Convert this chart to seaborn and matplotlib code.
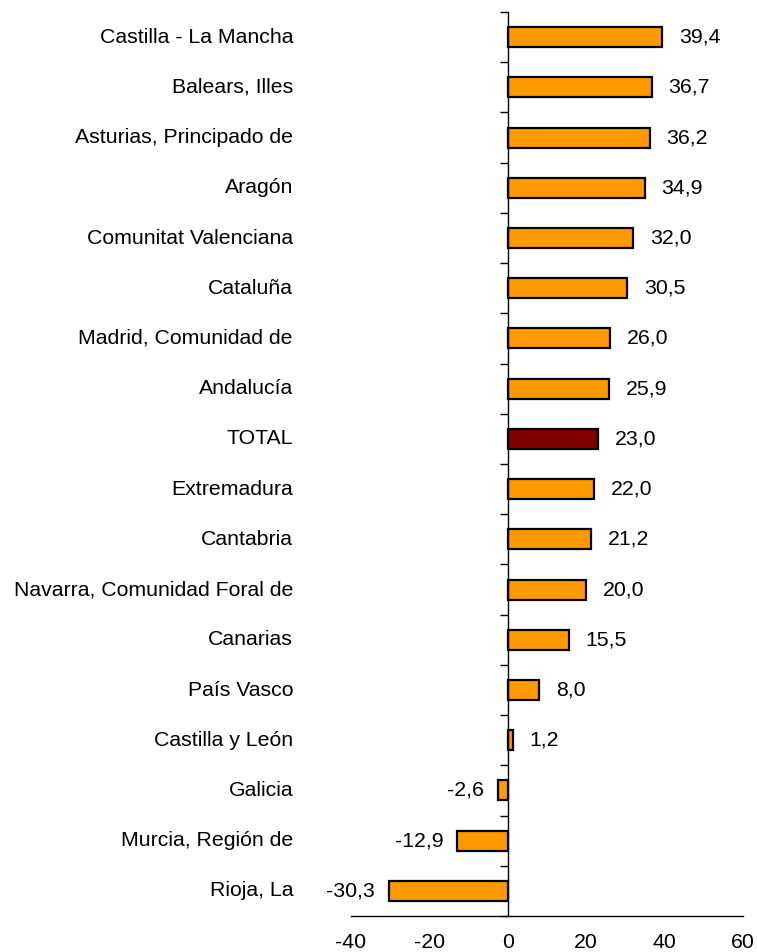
import numpy as np
import pandas as pd
import seaborn as sns
import matplotlib.pyplot as plt
from matplotlib.ticker import FixedLocator

# data
regions = ['Castilla - La Mancha', 'Balears, Illes', 'Asturias, Principado de',
           'Aragón', 'Comunitat Valenciana', 'Cataluña',
           'Madrid, Comunidad de', 'Andalucía', 'TOTAL', 'Extremadura',
           'Cantabria', 'Navarra, Comunidad Foral de', 'Canarias',
           'País Vasco', 'Castilla y León', 'Galicia', 'Murcia, Región de',
           'Rioja, La']
values = [39.4, 36.7, 36.2, 34.9, 32.0, 30.5, 26.0, 25.9, 23.0, 22.0,
          21.2, 20.0, 15.5, 8.0, 1.2, -2.6, -12.9, -30.3]
x_ticks = [-40, -20, 0, 20, 40, 60]

sns.set_style('white')
plt.rcParams['font.family'] = ['Liberation Sans', 'DejaVu Sans']
plt.rcParams['text.color'] = 'black'
plt.rcParams['xtick.labelcolor'] = 'black'
fs = 15.3

df = pd.DataFrame({'region': regions, 'value': values})
df['kind'] = np.where(df['region'] == 'TOTAL', 'total', 'region')

fig = plt.figure(figsize=(7.57, 9.52), dpi=100)
ax = fig.add_axes([351 / 757, 36 / 952, 392 / 757, 904 / 952])

sns.barplot(data=df, x='value', y='region', hue='kind', orient='h',
            palette={'region': '#FF9900', 'total': '#800000'},
            saturation=1, edgecolor='black', linewidth=1.6, width=0.4,
            dodge=False, legend=False, ax=ax)

ax.set_xlim(-40, 60)
ax.set_ylim(len(regions) - 0.5, -0.5)
ax.set_xlabel('')
ax.set_ylabel('')

# spines: y axis through zero, x axis at the bottom
for s in ['top', 'right']:
    ax.spines[s].set_visible(False)
ax.spines['left'].set_position(('data', 0))
ax.spines['left'].set_linewidth(1)
ax.spines['bottom'].set_linewidth(1)
ax.spines['left'].set_color('black')
ax.spines['bottom'].set_color('black')

ax.set_xticks(x_ticks)
ax.set_xticklabels([str(t) for t in x_ticks], fontsize=fs)
ax.tick_params(axis='x', direction='out', length=6, color='#999999',
               width=1, pad=6, labelcolor='black')

ax.set_yticks([])
ax.yaxis.set_minor_locator(FixedLocator(np.arange(-0.5, len(regions), 1)))
ax.tick_params(axis='y', which='minor', direction='out', length=6,
               color='black', width=1, left=True)

# category labels on the left
for i, name in enumerate(regions):
    ax.text(-58 / 392, i, name, transform=ax.get_yaxis_transform(),
            ha='right', va='center', fontsize=fs)

# value labels
for i, v in enumerate(values):
    lbl = f'{v:.1f}'.replace('.', ',')
    if v >= 0:
        ax.annotate(lbl, (v, i), xytext=(12, 0), textcoords='offset points',
                    ha='left', va='center', fontsize=fs)
    else:
        ax.annotate(lbl, (v, i), xytext=(-10, 0), textcoords='offset points',
                    ha='right', va='center', fontsize=fs)

fig.savefig('out.png', dpi=100)
